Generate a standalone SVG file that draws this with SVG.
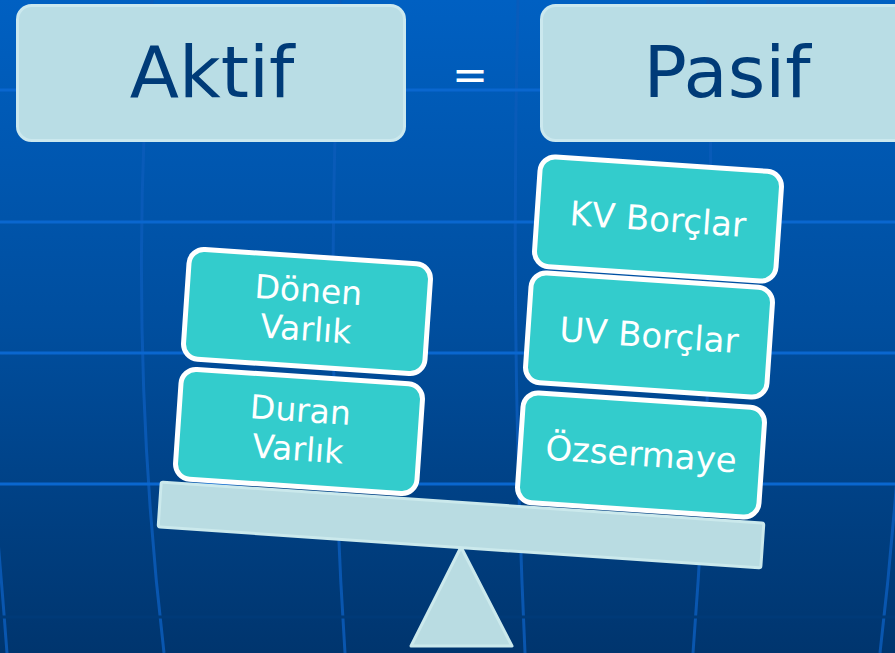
<svg xmlns="http://www.w3.org/2000/svg" width="895" height="653" viewBox="0 0 895 653">
  <defs>
    <linearGradient id="bg" x1="0" y1="0" x2="0" y2="1">
      <stop offset="0" stop-color="#0060C2"/>
      <stop offset="0.5" stop-color="#004E9E"/>
      <stop offset="1" stop-color="#00356E"/>
    </linearGradient>
    <style>
      .hline { stroke: #0A67CF; stroke-width: 3; fill: none; }
      .vline { stroke: #0A5CBA; stroke-width: 3; fill: none; opacity: 0.85; }
      .head { fill: #B9DDE5; stroke: #CBE8EE; stroke-width: 3; }
      .headtxt { font-family: "DejaVu Sans", Verdana, sans-serif; font-size: 72px; fill: #003B78; text-anchor: middle; }
      .box { fill: #33CCCC; stroke: #FFFFFF; stroke-width: 5; }
      .boxtxt { font-family: "DejaVu Sans", Verdana, sans-serif; font-size: 33px; fill: #FFFFFF; text-anchor: middle; }
      .big { font-size: 34px; }
      .scale { fill: #B9DCE2; stroke: #CBE9EC; stroke-width: 3; stroke-linejoin: round; }
    </style>
  </defs>

  <!-- background -->
  <rect x="0" y="0" width="895" height="653" fill="url(#bg)"/>
  <g id="grid">
    <path class="vline" d="M152,0 Q126,330 164,653"/>
    <path class="vline" d="M340,0 Q324,330 345,653"/>
    <path class="vline" d="M518,0 Q510,330 525,653"/>
    <path class="vline" d="M708,0 Q718,330 693,653"/>
    <path class="vline" d="M906,0 Q918,330 880,653"/>
    <path class="vline" d="M-25,300 Q-6,480 7,653"/>
    <line class="hline" x1="0" y1="90" x2="895" y2="90"/>
    <line class="hline" x1="0" y1="222" x2="895" y2="222"/>
    <line class="hline" x1="0" y1="353" x2="895" y2="353"/>
    <line class="hline" x1="0" y1="484" x2="895" y2="484"/>
    <line x1="0" y1="617" x2="895" y2="617" stroke="#003A78" stroke-width="3"/>
  </g>

  <!-- headers -->
  <g id="aktif">
    <rect class="head" x="17.5" y="5.5" width="387" height="135" rx="14"/>
    <text class="headtxt" x="212" y="97">Aktif</text>
  </g>
  <g id="equals">
    <text x="470" y="89" font-family="DejaVu Sans, sans-serif" font-size="43" fill="#FFFFFF" text-anchor="middle">=</text>
  </g>
  <g id="pasif">
    <rect class="head" x="541.5" y="5.5" width="387" height="135" rx="14"/>
    <text class="headtxt" x="727" y="97">Pasif</text>
  </g>

  <!-- scale -->
  <g id="fulcrum">
    <polygon class="scale" points="461,547 512,646 411,646"/>
  </g>
  <g id="plank">
    <rect class="scale" x="-302" y="-22.5" width="604" height="45" rx="2" transform="translate(461,525) rotate(3.9)"/>
  </g>

  <!-- left stack -->
  <g id="duran-varlik" transform="translate(299,431.5) rotate(3.9)">
    <rect class="box" x="-121" y="-55" width="242" height="110" rx="15"/>
    <text class="boxtxt" x="0" y="-10">Duran</text>
    <text class="boxtxt" x="0" y="29">Varlık</text>
  </g>
  <g id="donen-varlik" transform="translate(307,311.5) rotate(3.9)">
    <rect class="box" x="-121" y="-55" width="242" height="110" rx="15"/>
    <text class="boxtxt" x="0" y="-10">Dönen</text>
    <text class="boxtxt" x="0" y="29">Varlık</text>
  </g>

  <!-- right stack -->
  <g id="ozsermaye" transform="translate(641,455) rotate(3.9)">
    <rect class="box" x="-121" y="-55" width="242" height="110" rx="15"/>
    <text class="boxtxt big" x="0" y="11">Özsermaye</text>
  </g>
  <g id="uv-borclar" transform="translate(649,335) rotate(3.9)">
    <rect class="box" x="-121" y="-55" width="242" height="110" rx="15"/>
    <text class="boxtxt big" x="0" y="12">UV Borçlar</text>
  </g>
  <g id="kv-borclar" transform="translate(658,219) rotate(3.9)">
    <rect class="box" x="-121" y="-55" width="242" height="110" rx="15"/>
    <text class="boxtxt big" x="0" y="12">KV Borçlar</text>
  </g>
</svg>
